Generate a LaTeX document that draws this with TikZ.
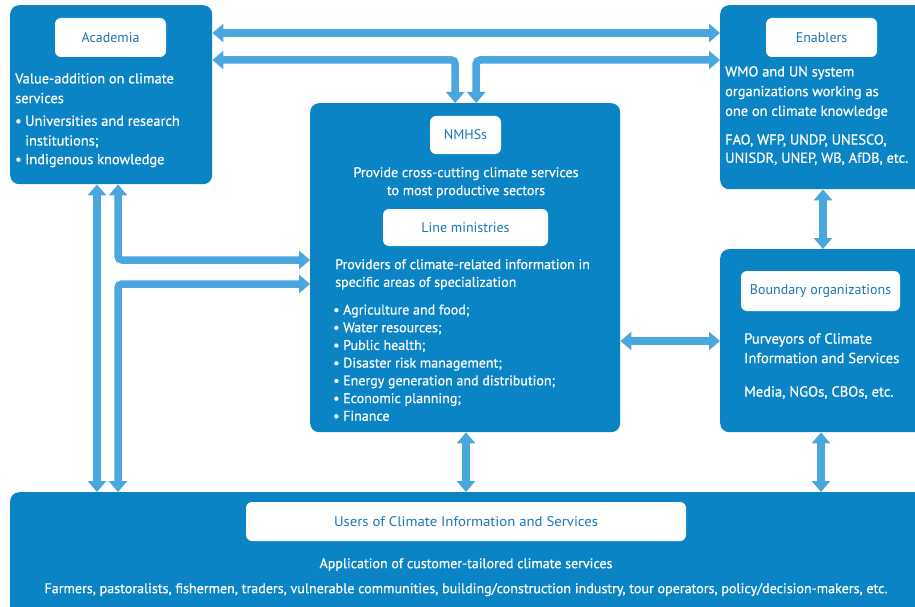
\documentclass[tikz,border=0pt]{standalone}
\usepackage{fontspec}
\usepackage{graphicx}
\setmainfont{PT Sans}[BoldFont=PT Sans, BoldFeatures={FakeBold=0.6}]
\usetikzlibrary{arrows.meta,calc}
\definecolor{boxblue}{RGB}{11,132,198}
\definecolor{arrblue}{RGB}{74,167,221}
\definecolor{labblue}{RGB}{28,118,184}
\newcommand\mybul{\makebox[10pt][l]{\textbullet}}
\begin{document}
\begin{tikzpicture}[x=1pt,y=-1pt,
  bigbox/.style={fill=boxblue, rounded corners=9pt, anchor=north west, inner sep=0pt, draw=none},
  labbox/.style={fill=white, rounded corners=6pt, inner sep=0pt, text=labblue, font=\fontsize{14}{16}\selectfont},
  body/.style={text=white, inner sep=0pt, anchor=north west, align=left, font=\bfseries\fontsize{14.4}{19.7}\selectfont},
  conn/.style={draw=arrblue, line width=7.5pt, rounded corners=4pt, arrows={Triangle[width=18pt,length=11pt]-Triangle[width=18pt,length=11pt]}}]
\clip (0,0) rectangle (915,607);
\fill[white] (0,0) rectangle (915,607);
% boxes
\node[bigbox, minimum width=202pt, minimum height=179pt] (acad) at (10,5) {};
\node[bigbox, minimum width=215pt, minimum height=184pt] (enab) at (720,5) {};
\node[bigbox, minimum width=310pt, minimum height=329pt] (nmhs) at (310,103) {};
\node[bigbox, minimum width=215pt, minimum height=183pt] (bound) at (720,249) {};
\node[bigbox, minimum width=915pt, minimum height=130pt] (users) at (10,492) {};
% labels
\node[labbox, minimum width=111pt, minimum height=39pt] (acadlab) at (110.5,37.5) {Academia};
\node[labbox, minimum width=111pt, minimum height=39pt] (enablab) at (821.5,37.5) {Enablers};
\node[labbox, minimum width=71pt, minimum height=38pt] (nmhslab) at (465.5,135) {NMHSs};
\node[labbox, minimum width=165pt, minimum height=37pt] (linelab) at (465.5,227.5) {Line ministries};
\node[labbox, minimum width=159pt, minimum height=40pt] (boundlab) at (820.5,291) {Boundary organizations};
\node[labbox, minimum width=440pt, minimum height=39pt] (userslab) at (466,521.5) {\resizebox{264pt}{\height}{Users of Climate Information and Services}};
% body texts
\node[body] (acadtxt) at (15,73) {Value-addition on climate\\ services\\[3pt]
  \mybul Universities and research\\ \hspace*{10pt}institutions;\\[-1pt] \mybul Indigenous knowledge};
\node[body] (enabtxt) at (725,66) {WMO and UN system\\ organizations working as\\ one on climate knowledge\\[9pt]
  FAO, WFP, UNDP, UNESCO,\\[-1.5pt] UNISDR, UNEP, WB, AfDB, etc.};
\node[body, anchor=north, align=center, font=\bfseries\fontsize{14}{18}\selectfont] (nmhstxt) at (466,167) {Provide cross-cutting climate services\\ to most productive sectors};
\node[body, font=\bfseries\fontsize{14}{17.7}\selectfont] (linetxt) at (335,259) {Providers of climate-related information in\\ specific areas of specialization\\[10pt]
  \hspace*{-2pt}\mybul Agriculture and food;\\ \hspace*{-2pt}\mybul Water resources;\\ \hspace*{-2pt}\mybul Public health;\\
  \hspace*{-2pt}\mybul Disaster risk management;\\ \hspace*{-2pt}\mybul Energy generation and distribution;\\
  \hspace*{-2pt}\mybul Economic planning;\\ \hspace*{-2pt}\mybul Finance};
\node[body, font=\bfseries\fontsize{14.6}{19.5}\selectfont] (boundtxt) at (744,333) {Purveyors of Climate\\ Information and Services\\[14pt] Media, NGOs, CBOs, etc.};
\node[body, anchor=north, align=center, font=\bfseries\fontsize{14}{18}\selectfont] (userstxt) at (466,558) {Application of customer-tailored climate services};
\node[body, anchor=north, align=center, font=\bfseries\fontsize{14}{18}\selectfont] (usersline) at (466,583) {\resizebox{843pt}{\height}{Farmers, pastoralists, fishermen, traders, vulnerable communities, building/construction industry, tour operators, policy/decision-makers, etc.}};
% connectors
\draw[conn] (acad.east |- 0,33) -- (enab.west |- 0,33);
\draw[conn] (acad.east |- 0,60) -| ([xshift=-10pt]nmhs.north);
\draw[conn] (enab.west |- 0,60) -| ([xshift=11pt]nmhs.north);
\draw[conn] (97,0 |- acad.south) -- (97,0 |- users.north);
\draw[conn] (118,0 |- acad.south) |- (nmhs.west |- 0,260);
\draw[conn] (118,0 |- users.north) |- (nmhs.west |- 0,284);
\draw[conn] (823,0 |- enab.south) -- (823,0 |- bound.north);
\draw[conn] (nmhs.east |- 0,341) -- (bound.west |- 0,341);
\draw[conn] (466,0 |- nmhs.south) -- (466,0 |- users.north);
\draw[conn] (821,0 |- bound.south) -- (821,0 |- users.north);
\end{tikzpicture}
\end{document}
